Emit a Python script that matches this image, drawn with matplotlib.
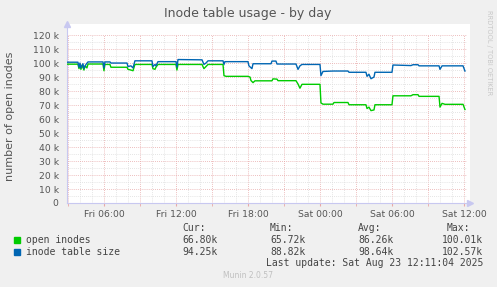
import matplotlib
matplotlib.use("Agg")
import matplotlib.pyplot as plt
import numpy as np

# hours since Fri 00:00, values in thousands
open_t = [2.92, 3.83, 3.92, 4.0, 4.08, 4.17, 4.33, 4.42, 4.58, 4.67, 5.92, 6.0, 6.08,
          6.5, 6.58, 7.92, 8.0, 8.25, 8.42, 8.58, 10.0, 10.08, 10.25, 10.33, 10.5,
          12.0, 12.08, 12.17, 14.17, 14.33, 14.5, 14.67, 15.92, 16.0, 16.17, 18.0,
          18.17, 18.25, 18.42, 18.58, 20.0, 20.08, 20.42, 20.5, 22.0, 22.17, 22.33,
          22.5, 24.0, 24.08, 24.25, 25.08, 25.17, 26.33, 26.42, 27.83, 27.92, 28.08,
          28.25, 28.5, 28.58, 30.0, 30.08, 31.58, 31.75, 32.17, 32.25, 33.92, 34.0,
          34.17, 34.42, 35.92, 36.08]
open_v = [99.2, 99.2, 96, 99, 95.5, 98.5, 95, 98, 96.5, 99.3, 99.3, 94.5, 99,
          99, 97, 97, 95.5, 95, 94.5, 99, 99, 96, 95.5, 97, 99,
          99, 95, 99, 99, 96, 97.5, 99, 99, 91, 90.5, 90.5,
          90, 87.5, 86, 87.3, 87.3, 88.7, 88.5, 87.4, 87.4, 85, 82,
          84.8, 84.8, 71.5, 70.6, 70.6, 71.8, 71.8, 70.2, 70.2, 67.5, 68.5,
          66, 66.5, 70.2, 70.2, 76.6, 76.6, 77.4, 77.4, 76.2, 76.2, 68.5,
          71.2, 70.5, 70.5, 66.8]

size_t = [2.92, 3.83, 3.92, 4.0, 4.08, 4.25, 4.33, 4.5, 4.67, 5.92, 6.0, 6.08,
          6.5, 6.58, 7.92, 8.0, 8.25, 8.42, 8.58, 10.0, 10.08, 10.25, 10.33, 10.5,
          12.0, 12.08, 12.17, 14.17, 14.33, 14.5, 14.67, 15.92, 16.0, 16.08, 18.0,
          18.08, 18.33, 18.42, 19.92, 20.0, 20.33, 20.42, 22.0, 22.17, 22.33, 22.5,
          24.0, 24.08, 24.25, 25.08, 26.33, 26.42, 27.83, 27.92, 28.08, 28.25, 28.5,
          28.58, 30.0, 30.08, 31.58, 31.75, 32.17, 32.25, 33.92, 34.0, 34.17, 35.92,
          36.08]
size_v = [100.6, 100.6, 97, 100, 96.5, 99.5, 96, 99, 100.8, 100.8, 96.5, 100.8,
          100.8, 100, 100, 97.5, 98, 96.5, 101.6, 101.6, 97.5, 99, 98, 101,
          101, 97, 102.5, 102.3, 99, 100, 101.6, 101.6, 99, 101, 101,
          98, 96, 99.5, 99.5, 101.4, 101.4, 99.3, 99.3, 95.5, 98, 99,
          99, 91, 94, 94.3, 94.3, 93.4, 93.4, 90.5, 92, 88.8, 90,
          93.4, 93.4, 98.6, 98.2, 98.8, 98.8, 98, 98, 95.5, 98, 98,
          94.3]

tick_hours = [6, 12, 18, 24, 30, 36]
tick_labels = ["Fri 06:00", "Fri 12:00", "Fri 18:00", "Sat 00:00", "Sat 06:00", "Sat 12:00"]
y_ticks = [0, 10, 20, 30, 40, 50, 60, 70, 80, 90, 100, 110, 120]

legend_names = ["open inodes", "inode table size"]
colors = ["#00cc00", "#0066b3"]
cur = ["66.80k", "94.25k"]
mins = ["65.72k", "88.82k"]
avgs = ["86.26k", "98.64k"]
maxs = ["100.01k", "102.57k"]

W, H = 497, 287
fig = plt.figure(figsize=(W / 100, H / 100), dpi=100, facecolor="#f0f0f0")
ax = fig.add_axes([67 / W, (H - 203) / H, 403 / W, (203 - 24) / H], facecolor="white")

x_lo, x_hi = 2.92, 36.5
y_hi = 127.9
ax.set_xlim(x_lo, x_hi)
ax.set_ylim(0, y_hi)

# grid: minor gray, major red
for h in np.arange(3, 37, 1):
    col = "#e8a8a8" if h % 3 == 0 else "#dcdcdc"
    ax.plot([h, h], [0, 120], color=col, lw=0.6, ls=(0, (1, 1.5)), zorder=1)
for v in np.arange(5, 121, 5):
    col = "#e8a8a8" if v % 10 == 0 else "#dcdcdc"
    ax.plot([x_lo, 36.25], [v, v], color=col, lw=0.6, ls=(0, (1, 1.5)), zorder=1)

ax.plot(open_t, open_v, color=colors[0], lw=1.0, zorder=3)
ax.plot(size_t, size_v, color=colors[1], lw=1.0, zorder=3)

for s in ["top", "right"]:
    ax.spines[s].set_visible(False)
for s in ["left", "bottom"]:
    ax.spines[s].set_color("#c8c8f0")
    ax.spines[s].set_linewidth(0.8)
ax.plot([x_hi], [0], marker=">", color="#c8c8f0", ms=4, clip_on=False, zorder=4)
ax.plot([x_lo], [y_hi], marker="^", color="#c8c8f0", ms=4, clip_on=False, zorder=4)

ax.set_xticks(tick_hours)
ax.set_xticklabels(tick_labels)
ax.set_xticks(np.arange(3, 37, 3), minor=True)
ax.tick_params(axis="x", which="major", length=2.5, color="#e8a8a8", pad=2.5,
               labelsize=6.7, labelcolor="#555555")
ax.tick_params(axis="x", which="minor", length=2.5, color="#e8a8a8")
ax.set_yticks(y_ticks)
ax.set_yticklabels(["0"] + [f"{v} k" for v in y_ticks[1:]])
ax.tick_params(axis="y", length=0, pad=6, labelsize=6.7, labelcolor="#555555")

fig.text(248 / W, 1 - 13 / H, "Inode table usage - by day", ha="center", va="center",
         fontsize=9, color="#555555")
fig.text(10 / W, 1 - 116 / H, "number of open inodes", rotation=90, ha="center",
         va="center", fontsize=8, color="#555555")
fig.text(489 / W, 1 - 53 / H, "RRDTOOL / TOBI OETIKER", rotation=270, ha="center",
         va="center", fontsize=4.8, color="#c8c8c8")

mono = "DejaVu Sans Mono"
fs = 7
tc = "#444444"
for x, lab in [(182, "Cur:"), (270, "Min:"), (358, "Avg:"), (447, "Max:")]:
    fig.text(x / W, 1 - 228 / H, lab, ha="left", va="center", family=mono, fontsize=fs, color=tc)
for i, yy in enumerate([240, 252]):
    fig.patches.append(plt.Rectangle((14 / W, 1 - (yy + 3) / H), 6 / W, 6 / H,
                                     transform=fig.transFigure, color=colors[i]))
    fig.text(26 / W, 1 - yy / H, legend_names[i], ha="left", va="center", family=mono, fontsize=fs, color=tc)
    fig.text(182 / W, 1 - yy / H, cur[i], ha="left", va="center", family=mono, fontsize=fs, color=tc)
    fig.text(270 / W, 1 - yy / H, mins[i], ha="left", va="center", family=mono, fontsize=fs, color=tc)
    fig.text(358 / W, 1 - yy / H, avgs[i], ha="left", va="center", family=mono, fontsize=fs, color=tc)
    fig.text(483 / W, 1 - yy / H, maxs[i], ha="right", va="center", family=mono, fontsize=fs, color=tc)
fig.text(483 / W, 1 - 263 / H, "Last update: Sat Aug 23 12:11:04 2025", ha="right", va="center",
         family=mono, fontsize=fs, color=tc)
fig.text(248 / W, 1 - 276 / H, "Munin 2.0.57", ha="center", va="center", fontsize=5.5, color="#c0c0c0")

fig.savefig("out.png", dpi=100, facecolor=fig.get_facecolor())
